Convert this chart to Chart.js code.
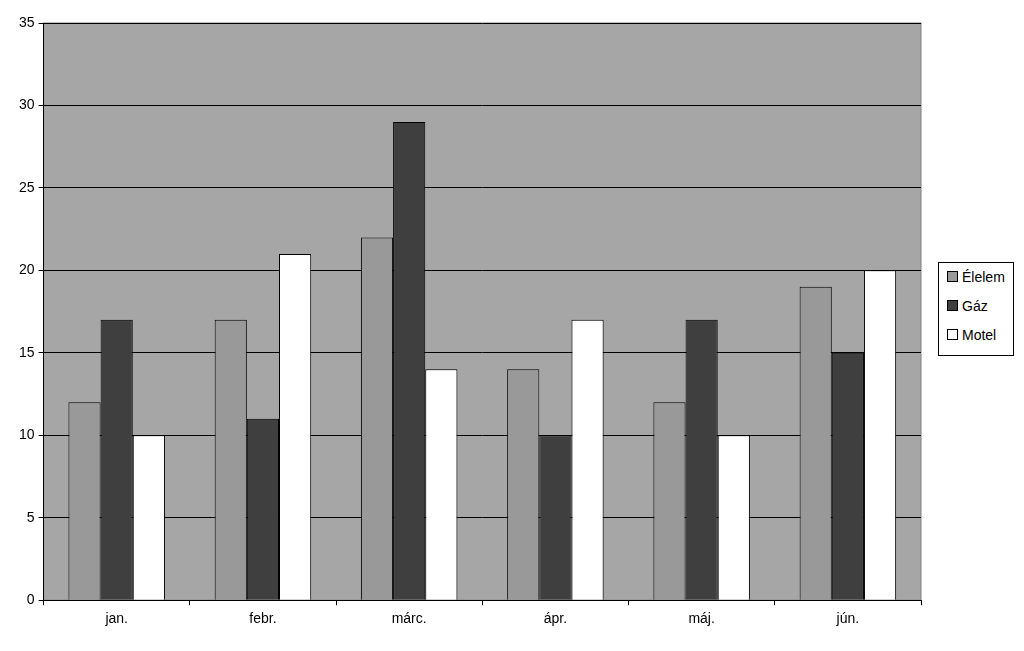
<!DOCTYPE html>
<html>
<head>
<meta charset="utf-8">
<script src="https://cdn.jsdelivr.net/npm/chart.js@4/dist/chart.umd.min.js"></script>
<style>
  body { margin: 0; background: #fff; }
  #wrap { position: relative; width: 1024px; height: 651px; }
  #legend {
    position: absolute; left: 938px; top: 262px; width: 76px; height: 94px;
    border: 1px solid #000; background: #fff; box-sizing: border-box;
    font: 14px "Liberation Sans", Arial, sans-serif; padding: 4px 0 0 8px;
  }
  #legend div { height: 29px; line-height: 20px; }
  #legend span { display: inline-block; width: 9px; height: 9px; border: 1px solid #000; margin-right: 4px; }
</style>
</head>
<body>
<div id="wrap">
  <canvas id="c" width="1024" height="651"></canvas>
  <div id="legend"></div>
</div>
<script>
const months = ["jan.", "febr.", "márc.", "ápr.", "máj.", "jún."];
const elelem = [12, 17, 22, 14, 12, 19];
const gaz = [17, 11, 29, 10, 17, 15];
const motel = [10, 21, 14, 17, 10, 20];

const series = [
  { label: "Élelem", data: elelem, color: "#999999" },
  { label: "Gáz", data: gaz, color: "#3f3f3f" },
  { label: "Motel", data: motel, color: "#ffffff" }
];

/* ===============================
   PLOT BACKGROUND
================================ */
const plotBg = {
  id: "plotBg",
  beforeDraw(chart) {
    const { ctx, chartArea: a } = chart;
    ctx.save();
    ctx.fillStyle = "#a6a6a6";
    ctx.fillRect(a.left, a.top, a.right - a.left, a.bottom - a.top);
    ctx.strokeStyle = "#808080";
    ctx.strokeRect(a.left, a.top, a.right - a.left, a.bottom - a.top);
    ctx.restore();
  }
};

const font = { family: "'Liberation Sans', Arial, sans-serif", size: 14 };

new Chart(document.getElementById("c"), {
  type: "bar",
  data: {
    labels: months,
    datasets: series.map(s => ({
      label: s.label,
      data: s.data,
      backgroundColor: s.color,
      borderColor: "#000",
      borderWidth: 1,
      categoryPercentage: 0.66,
      barPercentage: 1
    }))
  },
  options: {
    responsive: false,
    animation: false,
    layout: { padding: { top: 23, right: 103, bottom: 17, left: 15 } },
    plugins: { legend: { display: false }, tooltip: { enabled: false } },
    scales: {
      x: {
        grid: { offset: true, drawOnChartArea: false, color: "#000", tickLength: 5 },
        border: { color: "#000" },
        ticks: { color: "#000", font: font, padding: 6 }
      },
      y: {
        min: 0, max: 35,
        ticks: { stepSize: 5, color: "#000", font: font, padding: 4 },
        grid: { color: "#000", tickLength: 5 },
        border: { color: "#000" }
      }
    }
  },
  plugins: [plotBg]
});

const legend = document.getElementById("legend");
series.forEach(s => {
  const row = document.createElement("div");
  row.innerHTML = `<span style="background:${s.color}"></span>${s.label}`;
  legend.appendChild(row);
});
</script>
</body>
</html>
